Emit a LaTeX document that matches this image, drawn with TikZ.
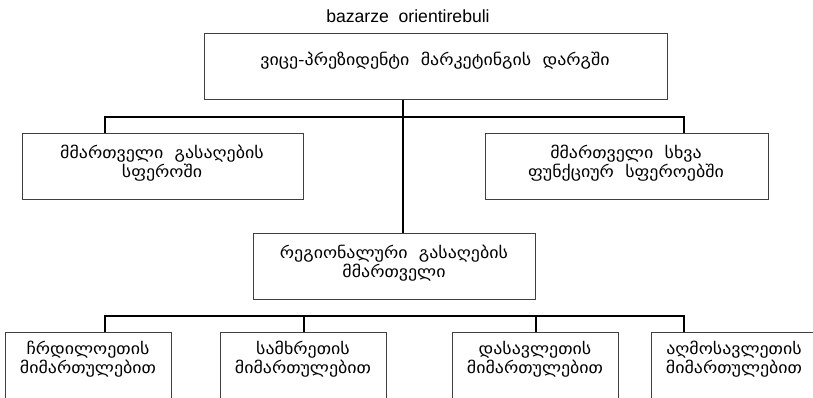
\documentclass[tikz,border=0pt]{standalone}
\usepackage{fontspec}
\newfontfamily\geofont[FakeStretch=1.12]{DejaVu Sans}
\newfontfamily\latfont[Scale=1.1]{Liberation Sans}
\usetikzlibrary{calc}
\newdimen\px \px=0.75pt

\begin{document}
\begin{tikzpicture}[x=0.75pt, y=-0.75pt,
    box/.style={draw=black!75, line width=0.9pt, anchor=north west, inner sep=0pt},
    txt/.style={font=\geofont\fontsize{12}{14.25}\selectfont, align=center, inner sep=0pt},
    link/.style={line width=1.5pt}]
    \useasboundingbox (0,0) rectangle (813,398);
    \clip (0,0) rectangle (813,398);

    % title
    \node[font=\fontsize{12}{14}\selectfont\latfont, inner sep=0pt] (title) at (408,16) {bazarze\ \ orientirebuli};

    % top box
    \node[box, minimum width=463\px, minimum height=66\px] (vp) at (204,33) {};
    \node[txt] (vptext) at (435,61) {ვიცე-პრეზიდენტი\ \ მარკეტინგის\ \ დარგში};

    % second level
    \node[box, minimum width=281\px, minimum height=66\px] (salesmgr) at (22,133) {};
    \node[txt] (salestext) at (162,163) {მმართველი\ \ გასაღების\\სფეროში};
    \node[box, minimum width=283\px, minimum height=66\px] (othermgr) at (485,133) {};
    \node[txt] (othertext) at (626,163) {მმართველი\ \ სხვა\\ფუნქციურ\ \ სფეროებში};

    % regional manager
    \node[box, minimum width=282\px, minimum height=66\px] (regmgr) at (253,233) {};
    \node[txt] (regtext) at (394,263) {რეგიონალური\ \ გასაღების\\მმართველი};

    % directions (cut at the bottom)
    \node[box, minimum width=166\px, minimum height=90\px] (dirN) at (5,332) {};
    \node[txt] (dirNtext) at (88,359) {ჩრდილოეთის\\მიმართულებით};
    \node[box, minimum width=166\px, minimum height=90\px] (dirS) at (220,332) {};
    \node[txt] (dirStext) at (303,359) {სამხრეთის\\მიმართულებით};
    \node[box, minimum width=166\px, minimum height=90\px] (dirW) at (452,332) {};
    \node[txt] (dirWtext) at (535,359) {დასავლეთის\\მიმართულებით};
    \node[box, minimum width=166\px, minimum height=90\px] (dirE) at (651,332) {};
    \node[txt] (dirEtext) at (734,359) {აღმოსავლეთის\\მიმართულებით};

    % connectors
    \coordinate (trunk) at (403,117);
    \coordinate (lj) at (105,117);
    \coordinate (rj) at (684,117);
    \draw[link] (trunk |- vp.south) -- (trunk |- regmgr.north);
    \draw[link] (lj |- salesmgr.north) -- (lj) -- (rj) -- (rj |- othermgr.north);

    \coordinate (bl) at (105,316);
    \coordinate (br) at (684,316);
    \draw[link] (bl |- dirN.north) -- (bl) -- (br) -- (br |- dirE.north);
    \draw[link] (dirS.north) -- (dirS.north |- bl);
    \draw[link] (dirW.north) -- (dirW.north |- bl);
\end{tikzpicture}
\end{document}
